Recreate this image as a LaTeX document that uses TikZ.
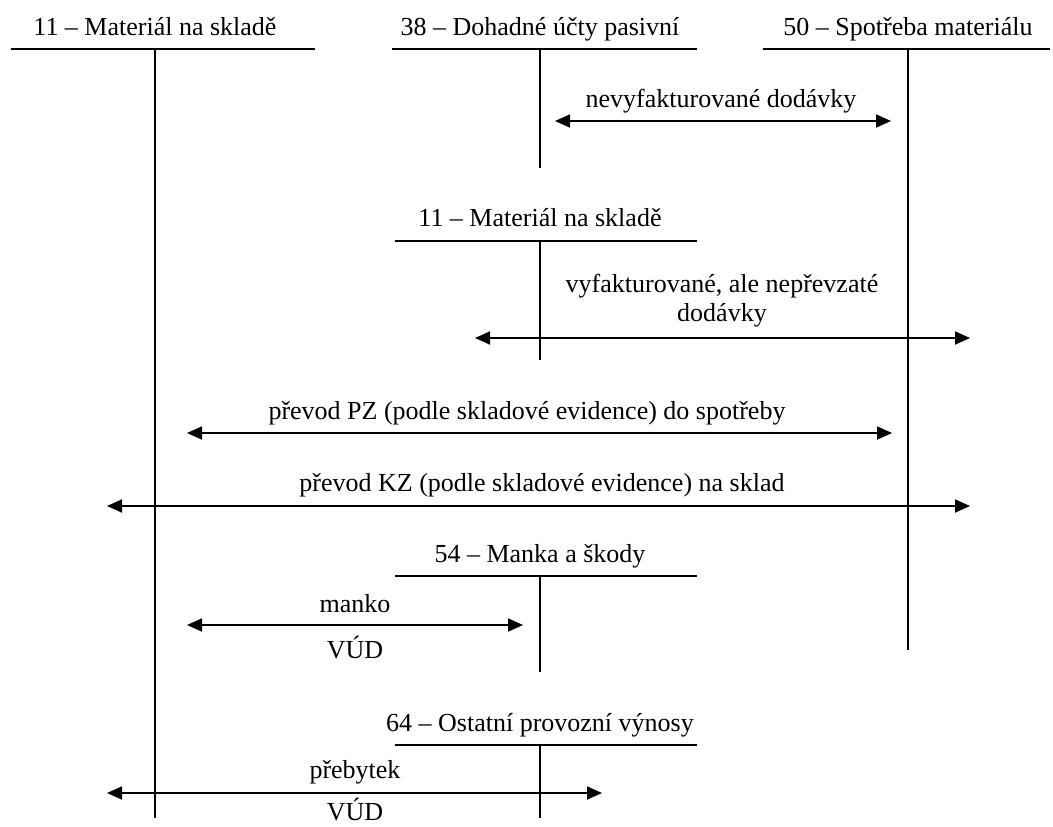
\documentclass[tikz,border=0pt]{standalone}
\usepackage{fontspec}
\setmainfont{Liberation Serif}
\usetikzlibrary{arrows.meta}
\begin{document}
\begin{tikzpicture}[x=1pt,y=-1pt,
  lbl/.style={font=\fontsize{26}{30}\selectfont, inner sep=0pt, anchor=base},
  acct/.style={line width=1.8pt},
  dbl/.style={line width=1.8pt, {Triangle[length=15pt,width=13pt]}-{Triangle[length=15pt,width=13pt]}}]
\useasboundingbox (0,0) rectangle (1053,827);

% Account 11 (top left)
\node[lbl] (tA) at (155,35) {11 – Materiál na skladě};
\coordinate (aL) at (11,49); \coordinate (aR) at (315,49);
\coordinate (aT) at (155,49); \coordinate (aB) at (155,818);
\draw[acct] (aL) -- (aR); \draw[acct] (aT) -- (aB);

% Account 38
\node[lbl] (tB) at (540,35) {38 – Dohadné účty pasivní};
\coordinate (bL) at (392,49); \coordinate (bR) at (697,49);
\coordinate (bT) at (540,49); \coordinate (bB) at (540,168);
\draw[acct] (bL) -- (bR); \draw[acct] (bT) -- (bB);

% Account 50
\node[lbl] (tC) at (908,35) {50 – Spotřeba materiálu};
\coordinate (cL) at (763,49); \coordinate (cR) at (1050,49);
\coordinate (cT) at (908,49); \coordinate (cB) at (908,650);
\draw[acct] (cL) -- (cR); \draw[acct] (cT) -- (cB);

% nevyfakturované dodávky
\node[lbl] (l1) at (721,107) {nevyfakturované dodávky};
\coordinate (e1a) at (555,121); \coordinate (e1b) at (891,121);
\draw[dbl] (e1a) -- (e1b);

% Account 11 (second)
\node[lbl] (tD) at (540,226) {11 – Materiál na skladě};
\coordinate (dL) at (395,241); \coordinate (dR) at (697,241);
\coordinate (dT) at (540,241); \coordinate (dB) at (540,360);
\draw[acct] (dL) -- (dR); \draw[acct] (dT) -- (dB);

% vyfakturované, ale nepřevzaté dodávky
\node[lbl] (l2a) at (722,292) {vyfakturované, ale nepřevzaté};
\node[lbl] (l2b) at (722,321) {dodávky};
\coordinate (e2a) at (475,338); \coordinate (e2b) at (970,338);
\draw[dbl] (e2a) -- (e2b);

% převod PZ
\node[lbl] (l3) at (527,419) {převod PZ (podle skladové evidence) do spotřeby};
\coordinate (e3a) at (187,433); \coordinate (e3b) at (892,433);
\draw[dbl] (e3a) -- (e3b);

% převod KZ
\node[lbl] (l4) at (542,491) {převod KZ (podle skladové evidence) na sklad};
\coordinate (e4a) at (107,506); \coordinate (e4b) at (970,506);
\draw[dbl] (e4a) -- (e4b);

% Account 54
\node[lbl] (tE) at (540,562) {54 – Manka a škody};
\coordinate (eL) at (395,576); \coordinate (eR) at (697,576);
\coordinate (eT) at (540,576); \coordinate (eB) at (540,672);
\draw[acct] (eL) -- (eR); \draw[acct] (eT) -- (eB);

% manko
\node[lbl] (l5) at (355,612) {manko};
\node[lbl] (l5b) at (355,658) {VÚD};
\coordinate (e5a) at (187,625); \coordinate (e5b) at (523,625);
\draw[dbl] (e5a) -- (e5b);

% Account 64
\node[lbl] (tF) at (540,731) {64 – Ostatní provozní výnosy};
\coordinate (fL) at (395,745); \coordinate (fR) at (697,745);
\coordinate (fT) at (540,745); \coordinate (fB) at (540,818);
\draw[acct] (fL) -- (fR); \draw[acct] (fT) -- (fB);

% přebytek
\node[lbl] (l6) at (355,778) {přebytek};
\node[lbl] (l6b) at (355,820) {VÚD};
\coordinate (e6a) at (107,793); \coordinate (e6b) at (602,793);
\draw[dbl] (e6a) -- (e6b);
\end{tikzpicture}
\end{document}
